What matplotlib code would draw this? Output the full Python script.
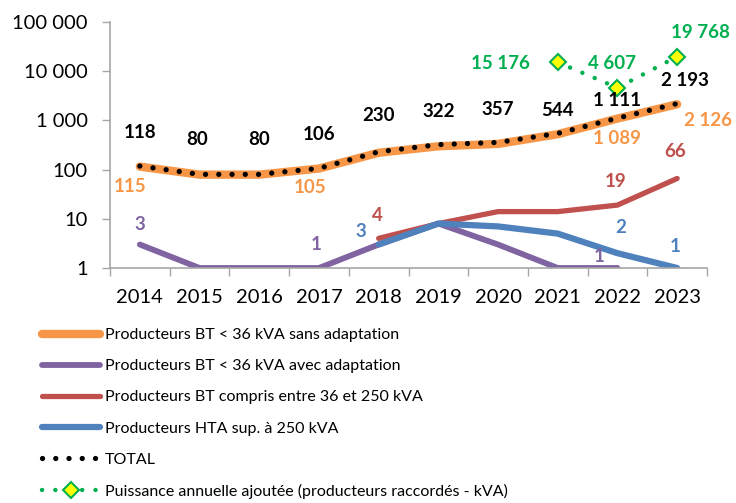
import numpy as np
import matplotlib
matplotlib.use("Agg")
from matplotlib import pyplot as plt
from matplotlib.ticker import FixedLocator, FuncFormatter, NullFormatter

plt.rcParams['font.family'] = ['Lato', 'DejaVu Sans']

# Data
years = ['2014', '2015', '2016', '2017', '2018', '2019', '2020', '2021', '2022', '2023']
bt_sans = [115, 79, 79, 105, 220, 298, 333, 524, 1089, 2126]
bt_avec = [3, 1, 1, 1, 3, 8, 3, 1, 1, np.nan]
bt_36_250 = [np.nan, np.nan, np.nan, np.nan, 4, 8, 14, 14, 19, 66]
hta_250 = [np.nan, np.nan, np.nan, np.nan, 3, 8, 7, 5, 2, 1]
total = [118, 80, 80, 106, 230, 322, 357, 544, 1111, 2193]
puissance = [np.nan] * 7 + [15176, 4607, 19768]

labels = ['Producteurs BT < 36 kVA sans adaptation',
          'Producteurs BT < 36 kVA avec adaptation',
          'Producteurs BT compris entre 36 et 250 kVA',
          'Producteurs HTA sup. à 250 kVA',
          'TOTAL',
          'Puissance annuelle ajoutée (producteurs raccordés - kVA)']

# which points get a value label, and the label offset in pixels
sans_lab = {0: (-10, -20), 3: (-9, -19), 8: (0, -20), 9: (31, -16)}
avec_lab = {0: (0, 20), 3: (-3, 23), 8: (-18, 11)}
red_lab = {4: (-1, 23), 8: (-2, 24), 9: (-2, 27)}
blue_lab = {4: (-18, 13), 8: (3, 26), 9: (-2, 22)}
total_lab = {0: (0, 34), 1: (-2, 35), 2: (0, 35), 3: (0, 34), 4: (0, 36),
             5: (0, 33), 6: (0, 33), 7: (0, 23), 8: (0, 18), 9: (8, 23)}
green_lab = {7: (-57, -1), 8: (-5, 24), 9: (23, 24)}

c_orange = '#F79646'
c_purple = '#8064A2'
c_red = '#C0504D'
c_blue = '#4F81BD'
c_green = '#00B050'


def fmt(v):
    return '{:,}'.format(int(round(v))).replace(',', ' ')


fig = plt.figure(figsize=(7.36, 5.03), dpi=100)
ax = fig.add_axes([110 / 736, 1 - 268 / 503, 597 / 736, 246 / 503])
x = np.arange(len(years))

kw = dict(solid_capstyle='round', solid_joinstyle='round')
l1, = ax.plot(x, bt_sans, color=c_orange, lw=6, **kw)
l2, = ax.plot(x, bt_avec, color=c_purple, lw=4.2, **kw)
l3, = ax.plot(x, bt_36_250, color=c_red, lw=3.8, **kw)
l4, = ax.plot(x, hta_250, color=c_blue, lw=4.5, **kw)
l5, = ax.plot(x, total, color='black', lw=3.8, linestyle=(0, (0.01, 2.5)),
              dash_capstyle='round')
l6, = ax.plot(x, puissance, color=c_green, lw=3.2, linestyle=(0, (0.01, 3.0)),
              dash_capstyle='round', marker='D', markersize=8,
              markerfacecolor='#FFFF00', markeredgecolor=c_green,
              markeredgewidth=1.5)


def put_labels(values, where, color):
    for i, (dx, dy) in where.items():
        ax.annotate(fmt(values[i]), (x[i], values[i]), xytext=(dx, dy),
                    textcoords='offset pixels', ha='center', va='center',
                    color=color, fontsize=13.5, fontweight='bold')


put_labels(bt_sans, sans_lab, c_orange)
put_labels(bt_avec, avec_lab, c_purple)
put_labels(bt_36_250, red_lab, c_red)
put_labels(hta_250, blue_lab, c_blue)
put_labels(total, total_lab, 'black')
put_labels(puissance, green_lab, c_green)

ax.set_yscale('log')
ax.set_ylim(1, 100000)
ax.set_xlim(-0.5, len(years) - 0.5)

ax.yaxis.set_major_locator(FixedLocator([1, 10, 100, 1000, 10000, 100000]))
ax.yaxis.set_minor_locator(FixedLocator([]))
ax.yaxis.set_major_formatter(FuncFormatter(lambda v, p: fmt(v)))
ax.tick_params(axis='y', which='major', length=6, width=1, color='#A6A6A6',
               pad=10, labelsize=14.5, labelcolor='black')

ax.xaxis.set_major_locator(FixedLocator(np.arange(-0.5, len(years), 1.0)))
ax.xaxis.set_major_formatter(NullFormatter())
ax.xaxis.set_minor_locator(FixedLocator(x))
ax.set_xticklabels(years, minor=True)
ax.tick_params(axis='x', which='major', length=6, width=1, color='#A6A6A6')
ax.tick_params(axis='x', which='minor', length=0, pad=15, labelsize=14.5,
               labelcolor='black')

for s in ['top', 'right']:
    ax.spines[s].set_visible(False)
for s in ['left', 'bottom']:
    ax.spines[s].set_color('#A6A6A6')
    ax.spines[s].set_linewidth(1.2)

fig.legend([l1, l2, l3, l4, l5, l6], labels, loc='upper left',
           bbox_to_anchor=(42 / 736, 1 - 328 / 503), frameon=False,
           fontsize=11.5, handlelength=3.65, handletextpad=0.3,
           labelspacing=1.06, borderpad=0, borderaxespad=0, numpoints=1)

fig.savefig('out.png', dpi=100)
